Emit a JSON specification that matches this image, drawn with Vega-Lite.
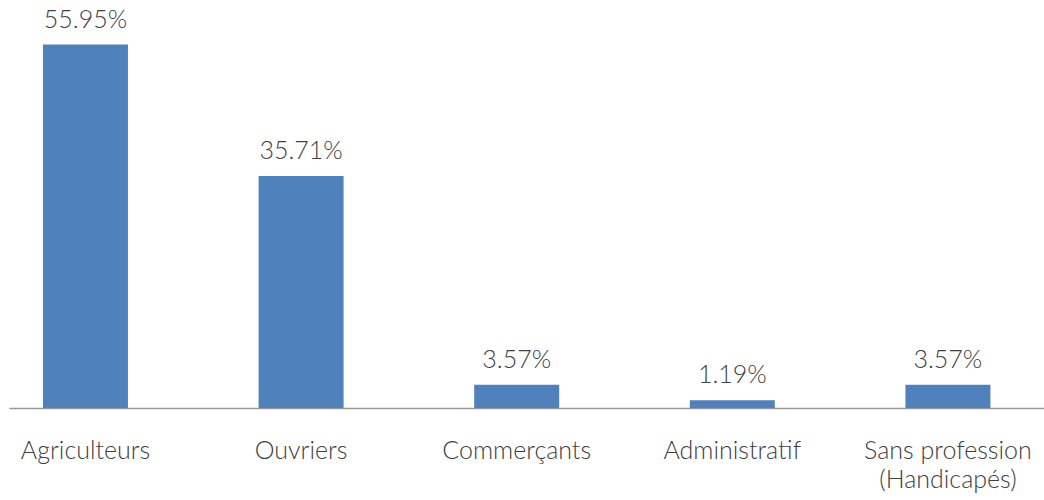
{
  "$schema": "https://vega.github.io/schema/vega-lite/v6.json",
  "autosize": {"type": "none"},
  "padding": {"left": 9, "top": 0, "right": 0, "bottom": 92},
  "width": 1035,
  "height": 408,
  "background": "white",
  "config": {"view": {"stroke": null}, "font": "Lato"},
  "data": {"values": [
    {"cat": "Agriculteurs", "pct": 55.95, "label": "55.95%"},
    {"cat": "Ouvriers", "pct": 35.71, "label": "35.71%"},
    {"cat": "Commerçants", "pct": 3.57, "label": "3.57%"},
    {"cat": "Administratif", "pct": 1.19, "label": "1.19%"},
    {"cat": "Sans profession|(Handicapés)", "pct": 3.57, "label": "3.57%"}
  ]},
  "encoding": {
    "x": {"field": "cat", "type": "nominal", "sort": null,
      "scale": {"paddingInner": 0.6058, "paddingOuter": 0.203, "align": 0.388},
      "axis": {"title": null, "labelAngle": 0, "ticks": false, "domainColor": "#999999", "domainWidth": 1.5,
        "labelExpr": "split(datum.label, '|')", "labelFontSize": 25, "labelColor": "#404040", "labelFontWeight": 300,
        "labelPadding": 30, "labelLineHeight": 29, "labelFont": "Lato"}},
    "y": {"field": "pct", "type": "quantitative", "scale": {"domain": [0, 62.8]}, "axis": null}
  },
  "layer": [
    {"mark": {"type": "bar", "color": "#4f81bd"}},
    {"mark": {"type": "text", "baseline": "alphabetic", "dy": -17, "fontSize": 25, "fontWeight": 300, "color": "#404040", "font": "Lato"},
      "encoding": {"text": {"field": "label"}}}
  ]
}
